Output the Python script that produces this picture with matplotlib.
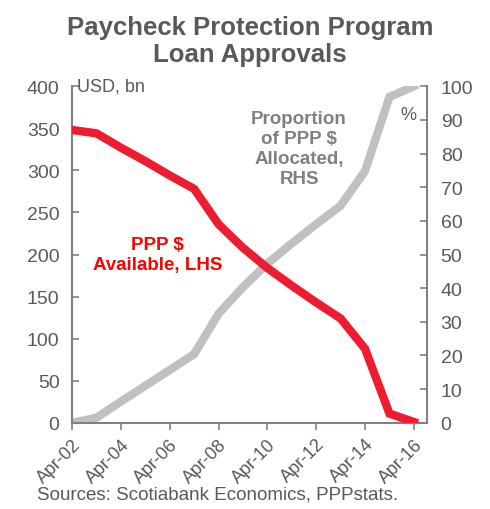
import matplotlib.pyplot as plt

plt.rcParams['font.family'] = ['Liberation Sans', 'DejaVu Sans']

days = list(range(2, 17))
tick_days = [2, 4, 6, 8, 10, 12, 14, 16]
tick_labels = ["Apr-02", "Apr-04", "Apr-06", "Apr-08", "Apr-10", "Apr-12", "Apr-14", "Apr-16"]

# USD bn still available (left axis)
available = [348, 344, 327, 311, 294, 278, 236, 208, 184, 163, 143, 124, 88, 11, 1]
# share of PPP $ allocated, % (right axis)
allocated = [0, 1.5, 6.3, 11, 15.7, 20.4, 32.4, 40.3, 47.3, 53.3, 59.0, 64.5, 74.8, 96.8, 100]

red = "#ED1C2E"
grey_line = "#C0C0C0"
txt = "#595959"
spine_c = "#808080"

fig = plt.figure(figsize=(4.9, 5.1), dpi=100)
ax = fig.add_axes([0.147, 0.169, 0.724, 0.660])
ax2 = ax.twinx()

ax.plot(days, available, color=red, lw=6, solid_joinstyle="miter", zorder=3)
ax2.plot(days, allocated, color=grey_line, lw=6, solid_joinstyle="miter", zorder=2)
ax.set_zorder(ax2.get_zorder() + 1)
ax.patch.set_visible(False)

ax.set_xlim(2, 16.53)
ax.set_ylim(0, 400)
ax2.set_ylim(0, 100)
ax.set_yticks(range(0, 401, 50))
ax2.set_yticks(range(0, 101, 10))
ax.set_xticks(tick_days)
ax.set_xticklabels(tick_labels, rotation=45, ha="right", rotation_mode="anchor")

for a in (ax, ax2):
    for s in a.spines.values():
        s.set_color(spine_c)
        s.set_linewidth(1.5)
    a.spines["top"].set_visible(False)
ax.spines["right"].set_visible(False)
ax2.spines["left"].set_visible(False)
ax2.spines["bottom"].set_visible(False)

ax.tick_params(axis="y", direction="in", length=5, width=1.2, color=spine_c,
               labelsize=14, labelcolor=txt, pad=9)
ax.tick_params(axis="x", direction="out", length=5, width=1.2, color=spine_c,
               labelsize=13, labelcolor=txt, pad=4)
ax2.tick_params(axis="y", direction="in", length=5, width=1.2, color=spine_c,
                labelsize=14, labelcolor=txt, pad=10)

ax.text(0.015, 1.0, "USD, bn", transform=ax.transAxes, fontsize=13, color=txt,
        ha="left", va="center")
ax.text(0.97, 0.915, "%", transform=ax.transAxes, fontsize=13, color=txt,
        ha="right", va="center")

ax.text(5.5, 200, "PPP $\nAvailable, LHS", color="#FF0000", fontsize=13.5, fontweight="bold",
        ha="center", va="center", linespacing=1.2)
ax2.text(11.3, 81.5, "Proportion\nof PPP $\nAllocated,\nRHS", color="#808080", fontsize=13.5,
         fontweight="bold", ha="center", va="center", linespacing=1.25)

fig.text(0.51, 0.968, "Paycheck Protection Program\nLoan Approvals", ha="center", va="top",
         fontsize=18.5, fontweight="bold", color=txt, linespacing=1.15)
fig.text(0.075, 0.012, "Sources: Scotiabank Economics, PPPstats.", fontsize=13.5,
         color=txt, ha="left", va="bottom")

fig.savefig("out.png", dpi=100)
